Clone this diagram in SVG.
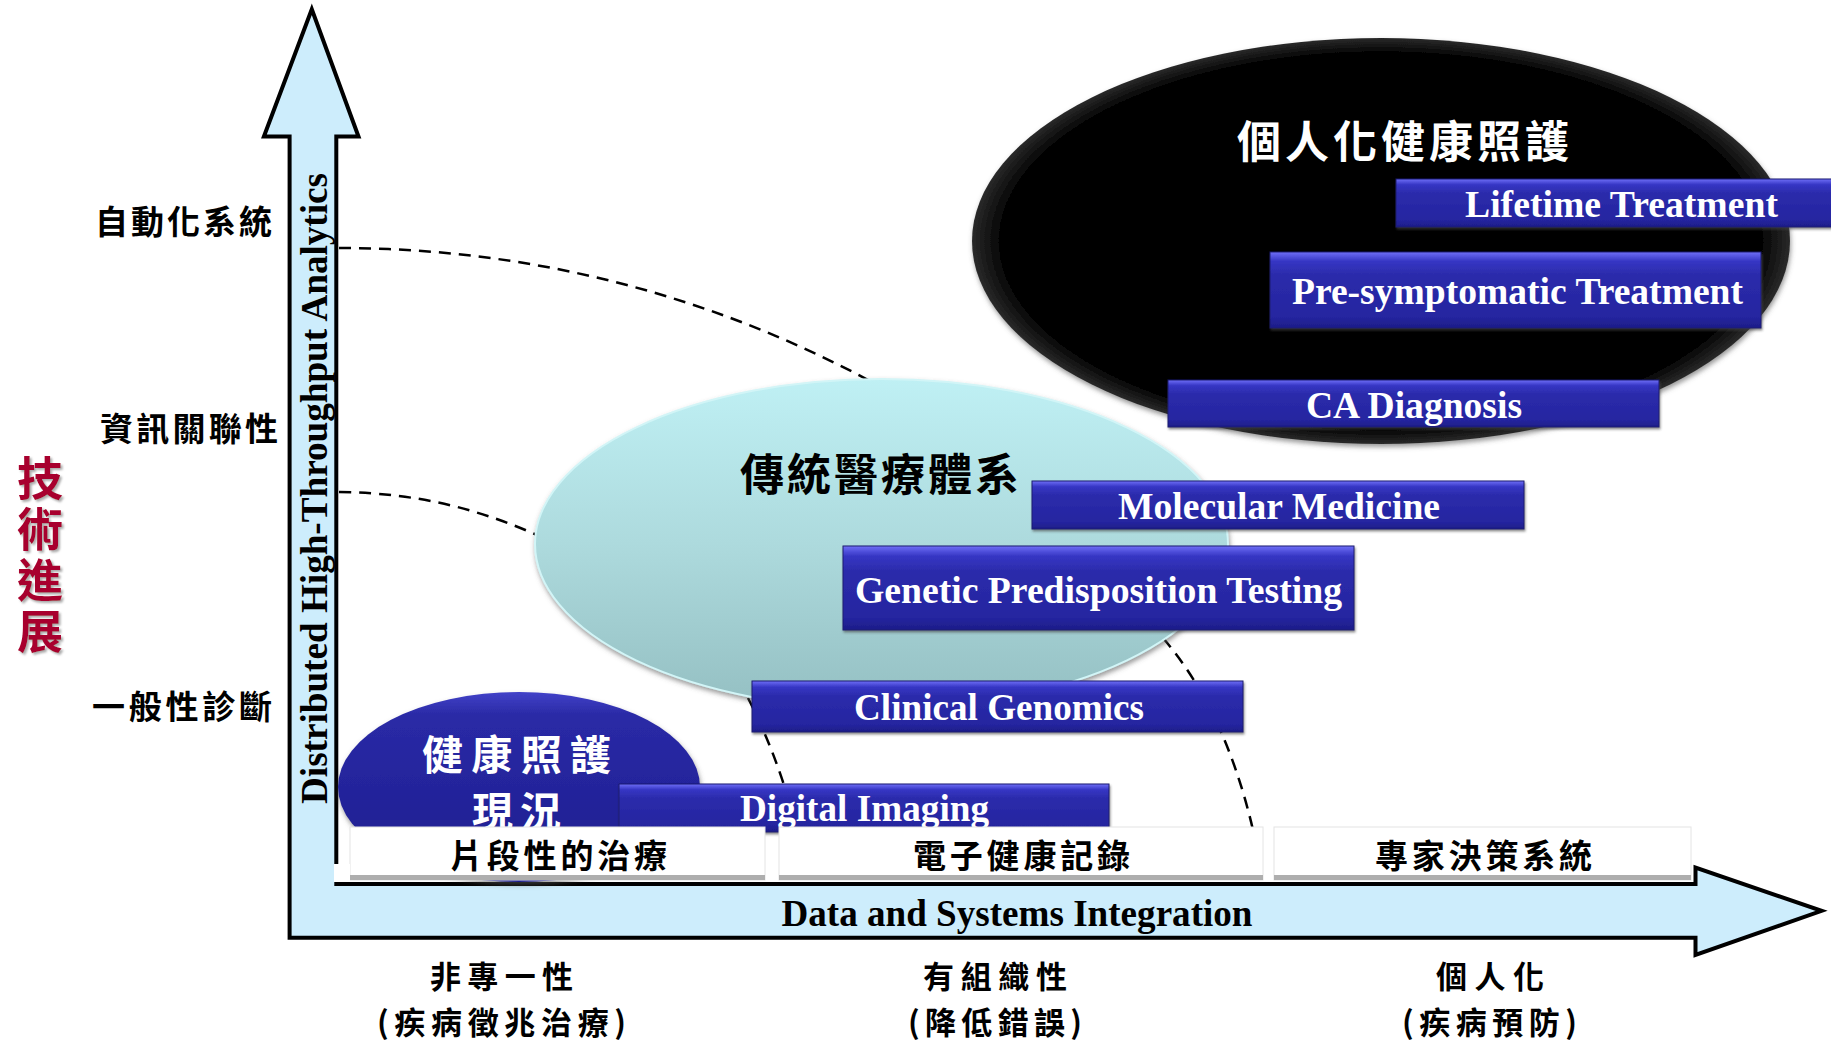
<svg xmlns="http://www.w3.org/2000/svg" width="1831" height="1043" viewBox="0 0 1831 1043">
<defs>
<style>
.cjk{font-family:"Noto Sans CJK TC","Noto Sans CJK SC",sans-serif;font-weight:700}
.en{font-family:"Liberation Serif","Times New Roman",serif;font-weight:700}
.bartext{fill:#ffffff;font-size:37px}
.dash{fill:none;stroke:#000;stroke-width:2.5;stroke-dasharray:12 8}
.lbl{font-size:33px;fill:#000}
.xl{font-size:31px;fill:#000}
.box{fill:#fff;stroke:#e4e4e4;stroke-width:1}
.strip{fill:#aeaeae}
.bar{fill:url(#barGrad);stroke:#1c1c70;stroke-width:1;filter:url(#barShadow)}
</style>
<clipPath id="aboveBoxes"><rect x="0" y="0" width="1831" height="827"/></clipPath>
<linearGradient id="barGrad" x1="0" y1="0" x2="0" y2="1">
<stop offset="0" stop-color="#6f6ff7"/>
<stop offset="0.12" stop-color="#3636c4"/>
<stop offset="0.3" stop-color="#2b2bab"/>
<stop offset="0.85" stop-color="#2525a0"/>
<stop offset="1" stop-color="#1d1d88"/>
</linearGradient>
<linearGradient id="tealGrad" x1="0" y1="0" x2="0" y2="1">
<stop offset="0" stop-color="#bff0f4"/>
<stop offset="0.5" stop-color="#addadd"/>
<stop offset="1" stop-color="#94bfc2"/>
</linearGradient>
<radialGradient id="blackGrad" cx="0.5" cy="0.5" r="0.5">
<stop offset="0" stop-color="#000"/>
<stop offset="0.93" stop-color="#040404"/>
<stop offset="1" stop-color="#2a2a2a"/>
</radialGradient>
<linearGradient id="blueGrad" x1="0" y1="0" x2="0" y2="1">
<stop offset="0" stop-color="#4242c8"/>
<stop offset="0.12" stop-color="#2a2aa6"/>
<stop offset="1" stop-color="#1c1c8e"/>
</linearGradient>
<filter id="softShadow" x="-10%" y="-10%" width="120%" height="125%">
<feDropShadow dx="1" dy="3" stdDeviation="2.5" flood-color="#555" flood-opacity="0.6"/>
</filter>
<filter id="barShadow" x="-5%" y="-10%" width="110%" height="130%">
<feDropShadow dx="1" dy="2" stdDeviation="1" flood-color="#444" flood-opacity="0.6"/>
</filter>
<filter id="redShadow" x="-20%" y="-20%" width="140%" height="140%">
<feDropShadow dx="2" dy="2" stdDeviation="1" flood-color="#888" flood-opacity="0.7"/>
</filter>
</defs>

<g id="axes">
<path d="M289.6,937.7 L289.6,136.6 L263.9,136.6 L311.8,9.3 L358.5,136.6 L336.3,136.6 L336.3,884 L1695.5,884 L1695.5,867.6 L1821.6,910.8 L1695.5,955 L1695.5,937.7 Z" fill="#cdedfc" stroke="#000" stroke-width="4" stroke-linejoin="miter"/>
<text class="en" font-size="37" transform="translate(327,804) rotate(-90)" textLength="631" lengthAdjust="spacingAndGlyphs">Distributed High-Throughput Analytics</text>
<text class="en" font-size="37" x="781.5" y="926" textLength="471" lengthAdjust="spacingAndGlyphs">Data and Systems Integration</text>
</g>

<g id="connectors">
<path class="dash" d="M339,248 C520,248 700,290 870,381"/>
<path class="dash" d="M339,492 C420,493 480,510 537,535"/>
<path class="dash" d="M748,698 Q790,780 808,882"/>
<path class="dash" d="M1163,638 Q1225,710 1253,830"/>
</g>

<g id="node-traditional">
<ellipse cx="881.5" cy="544" rx="346.5" ry="165" fill="url(#tealGrad)" stroke="#d2f5f7" stroke-width="2" filter="url(#softShadow)"/>
<text class="cjk" font-size="44" x="740" y="491" textLength="279" fill="#000">傳統醫療體系</text>
</g>

<g id="node-personalized">
<ellipse cx="1381" cy="241" rx="409" ry="203" fill="url(#blackGrad)" filter="url(#softShadow)"/>
<text class="cjk" font-size="44" x="1237" y="158" textLength="332" fill="#fff">個人化健康照護</text>
</g>

<g id="node-current">
<ellipse cx="519" cy="787" rx="181" ry="95" fill="url(#blueGrad)" filter="url(#softShadow)"/>
<text class="cjk" font-size="41" fill="#fff" clip-path="url(#aboveBoxes)"><tspan x="422" y="770" textLength="189">健康照護</tspan><tspan x="472" y="827" textLength="89">現況</tspan></text>
</g>

<g id="bar-lifetime">
<rect class="bar" x="1396" y="179" width="460" height="48"/>
<text class="en bartext" x="1465" y="217" textLength="313" lengthAdjust="spacingAndGlyphs">Lifetime Treatment</text>
</g>
<g id="bar-presymptomatic">
<rect class="bar" x="1270" y="252" width="491" height="76"/>
<text class="en bartext" x="1292" y="304" textLength="451" lengthAdjust="spacingAndGlyphs">Pre-symptomatic Treatment</text>
</g>
<g id="bar-ca">
<rect class="bar" x="1168" y="380" width="491" height="47"/>
<text class="en bartext" x="1306" y="418" textLength="216" lengthAdjust="spacingAndGlyphs">CA Diagnosis</text>
</g>
<g id="bar-molecular">
<rect class="bar" x="1032" y="481" width="492" height="48"/>
<text class="en bartext" x="1118" y="519" textLength="322" lengthAdjust="spacingAndGlyphs">Molecular Medicine</text>
</g>
<g id="bar-genetic">
<rect class="bar" x="843" y="546" width="511" height="84"/>
<text class="en bartext" x="855" y="603" textLength="487" lengthAdjust="spacingAndGlyphs">Genetic Predisposition Testing</text>
</g>
<g id="bar-clinical">
<rect class="bar" x="752" y="681" width="491" height="51"/>
<text class="en bartext" x="854" y="720" textLength="290" lengthAdjust="spacingAndGlyphs">Clinical Genomics</text>
</g>
<g id="bar-digital">
<rect class="bar" x="619" y="784" width="490" height="48"/>
<text class="en bartext" x="740" y="821" textLength="249" lengthAdjust="spacingAndGlyphs" clip-path="url(#aboveBoxes)">Digital Imaging</text>
</g>

<g id="box-fragmented">
<rect class="box" x="350" y="827" width="415" height="53"/>
<rect class="strip" x="350" y="875" width="415" height="5"/>
<text class="cjk lbl" x="450" y="868" textLength="217">片段性的治療</text>
</g>
<g id="box-ehr">
<rect class="box" x="779" y="827" width="484" height="53"/>
<rect class="strip" x="779" y="875" width="484" height="5"/>
<text class="cjk lbl" x="913" y="868" textLength="217">電子健康記錄</text>
</g>
<g id="box-expert">
<rect class="box" x="1274" y="827" width="417" height="53"/>
<rect class="strip" x="1274" y="875" width="417" height="5"/>
<text class="cjk lbl" x="1375" y="868" textLength="217">專家決策系統</text>
</g>
<rect x="334" y="864" width="16" height="18" fill="#fff"/>

<g id="y-labels">
<text class="cjk lbl" x="95" y="234" textLength="177">自動化系統</text>
<text class="cjk lbl" x="100" y="441" textLength="178">資訊關聯性</text>
<text class="cjk lbl" x="92" y="719" textLength="180">一般性診斷</text>
</g>

<g id="y-title" filter="url(#redShadow)">
<text class="cjk" font-size="46" fill="#a8002f" x="40" y="455" style="writing-mode:vertical-rl;letter-spacing:5px">技術進展</text>
</g>

<g id="x-labels">
<text class="cjk xl" x="430" y="988" textLength="143">非專一性</text>
<text class="cjk xl" x="377" y="1034" textLength="249">(疾病徵兆治療)</text>
<text class="cjk xl" x="923" y="988" textLength="144">有組織性</text>
<text class="cjk xl" x="908" y="1034" textLength="174">(降低錯誤)</text>
<text class="cjk xl" x="1436" y="988" textLength="108">個人化</text>
<text class="cjk xl" x="1402" y="1034" textLength="175">(疾病預防)</text>
</g>
</svg>
